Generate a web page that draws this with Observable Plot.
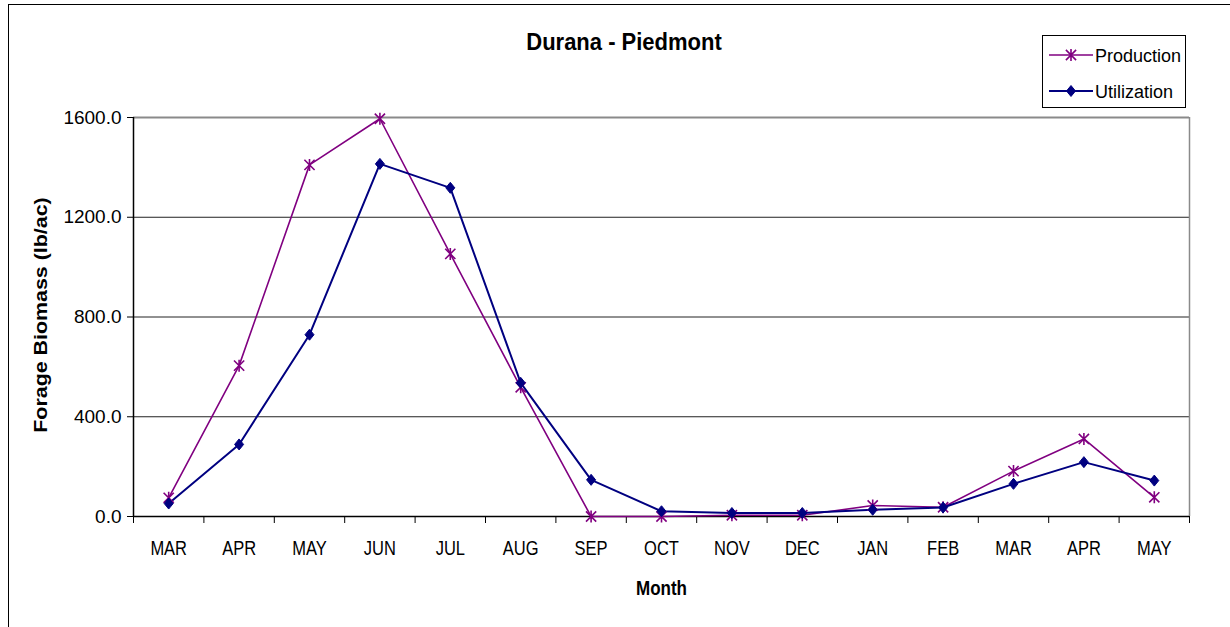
<!DOCTYPE html>
<html>
<head>
<meta charset="utf-8">
<script src="https://cdn.jsdelivr.net/npm/d3@7"></script>
<script src="https://cdn.jsdelivr.net/npm/@observablehq/plot@0.6"></script>
<style>
  body { margin: 0; background: #fff; }
  #wrap { position: relative; width: 1230px; height: 627px; overflow: hidden; background: #fff; }
  #wrap svg { position: absolute; left: 0; top: 0; }
  #frame { position: absolute; left: 8px; top: 4px; width: 1300px; height: 700px; border: 1px solid #000; box-sizing: border-box; pointer-events: none; }
</style>
</head>
<body>
<div id="wrap"><div id="frame"></div></div>
<script>
// ---- data ----
const months = ["MAR","APR","MAY","JUN","JUL","AUG","SEP","OCT","NOV","DEC","JAN","FEB","MAR","APR","MAY"];
const production  = [75, 605, 1410, 1595, 1053, 518, 0, 0, 5, 5, 44, 37, 182, 311, 77];
const utilization = [52, 289, 729, 1414, 1318, 536, 147, 21, 14, 14, 27, 36, 131, 218, 144];
const yTicks = [0, 400, 800, 1200, 1600];
const seriesNames = ["Production", "Utilization"];
const seriesColors = ["#800080", "#000080"];
const titleText = "Durana - Piedmont";
const xLabel = "Month";
const yLabel = "Forage Biomass (lb/ac)";

const rows = months.map((m, i) => ({ i, pos: i + 0.5, month: m, production: production[i], utilization: utilization[i] }));

// custom Excel-like markers
const starSymbol = { draw(ctx, size) { const r = Math.sqrt(size / Math.PI); const a = r * 0.85;
  ctx.moveTo(-a, -a); ctx.lineTo(a, a); ctx.moveTo(-a, a); ctx.lineTo(a, -a); ctx.moveTo(0, -r); ctx.lineTo(0, r); } };
const diamondSymbol = { draw(ctx, size) { const r = Math.sqrt(size / Math.PI); const w = r * 0.82;
  ctx.moveTo(0, -r); ctx.lineTo(w, 0); ctx.lineTo(0, r); ctx.lineTo(-w, 0); ctx.closePath(); } };

const FONT = '"Liberation Sans", Arial, Helvetica, sans-serif';

const chart = Plot.plot({
  width: 1230, height: 627,
  marginLeft: 133, marginRight: 41, marginTop: 117, marginBottom: 111,
  style: { fontFamily: FONT, background: "transparent", overflow: "visible", color: "#000" },
  x: { type: "linear", domain: [0, months.length], axis: null },
  y: { domain: [0, 1600], axis: null },
  marks: [
    Plot.gridY([400, 800, 1200], { stroke: "#222", strokeOpacity: 1, strokeWidth: 1 }),
    Plot.ruleY([1600], { stroke: "#8a8a8a", strokeWidth: 2 }),
    Plot.ruleX([months.length], { stroke: "#8a8a8a", strokeWidth: 1.5 }),
    Plot.axisY(yTicks, { anchor: "left", tickSize: 6, tickPadding: 6, fontSize: 19, tickFormat: d => d.toFixed(1), label: null }),
    Plot.axisX(d3.range(months.length + 1), { anchor: "bottom", tickSize: 7, tickFormat: () => "", label: null }),
    Plot.axisX(rows.map(d => d.pos), { anchor: "bottom", tickSize: 0, tickPadding: 24, fontSize: 16.5, tickFormat: d => months[Math.floor(d)], label: null }),
    Plot.ruleX([0], { stroke: "#000", strokeWidth: 1.5 }),
    Plot.ruleY([0], { stroke: "#000", strokeWidth: 1.5 }),
    Plot.line(rows, { x: "pos", y: "production", stroke: seriesColors[0], strokeWidth: 1.6 }),
    Plot.line(rows, { x: "pos", y: "utilization", stroke: seriesColors[1], strokeWidth: 2 }),
    Plot.dot(rows, { x: "pos", y: "production", symbol: starSymbol, r: 6, stroke: seriesColors[0], fill: "none", strokeWidth: 1.6 }),
    Plot.dot(rows, { x: "pos", y: "utilization", symbol: diamondSymbol, r: 5.5, fill: seriesColors[1], stroke: seriesColors[1], strokeWidth: 1 })
  ]
});

document.getElementById("wrap").appendChild(chart);
const svg = d3.select(chart);

// vertical stretch of the month labels group (as in the original), about the label top line
const monthSet = new Set(months);
const firstMonth = svg.selectAll("text").filter(function () { return monthSet.has(this.textContent); }).node();
if (firstMonth) {
  let g = firstMonth.parentNode;
  if (g.tagName.toLowerCase() === "text") g = g.parentNode;
  const Y0 = 540;
  const t = g.getAttribute("transform") || "";
  g.setAttribute("transform", `translate(0,${Y0}) scale(1,1.25) translate(0,${-Y0}) ${t}`);
}

function addText(transform, str, size, weight, anchor) {
  return svg.append("text").attr("transform", transform)
    .attr("text-anchor", anchor).attr("font-family", FONT).attr("font-weight", weight)
    .attr("font-size", size).attr("fill", "#000").text(str);
}
// title
addText("translate(624,50) scale(1,1.1)", titleText, 22, "bold", "middle");
// axis labels
addText("translate(47,315) rotate(-90) scale(1.19,1)", yLabel, 18, "bold", "middle");
addText("translate(661.5,595) scale(1,1.22)", xLabel, 17, "bold", "middle");

// legend
const lg = svg.append("g");
lg.append("rect").attr("x", 1042.5).attr("y", 35.5).attr("width", 143).attr("height", 72)
  .attr("fill", "#fff").attr("stroke", "#000").attr("stroke-width", 1);
const legendSymbols = [starSymbol, diamondSymbol];
[55, 91].forEach((yy, k) => {
  lg.append("line").attr("x1", 1049).attr("x2", 1093).attr("y1", yy).attr("y2", yy)
    .attr("stroke", seriesColors[k]).attr("stroke-width", k ? 2 : 1.6);
  lg.append("path").attr("transform", `translate(1071,${yy})`)
    .attr("d", d3.symbol(legendSymbols[k], Math.PI * (k ? 30 : 36))())
    .attr("fill", k ? seriesColors[k] : "none").attr("stroke", seriesColors[k]).attr("stroke-width", k ? 1 : 1.6);
  lg.append("text").attr("x", 1095).attr("y", yy + 6.5).attr("text-anchor", "start").attr("font-family", FONT)
    .attr("font-size", 18).attr("fill", "#000").text(seriesNames[k]);
});
</script>
</body>
</html>
